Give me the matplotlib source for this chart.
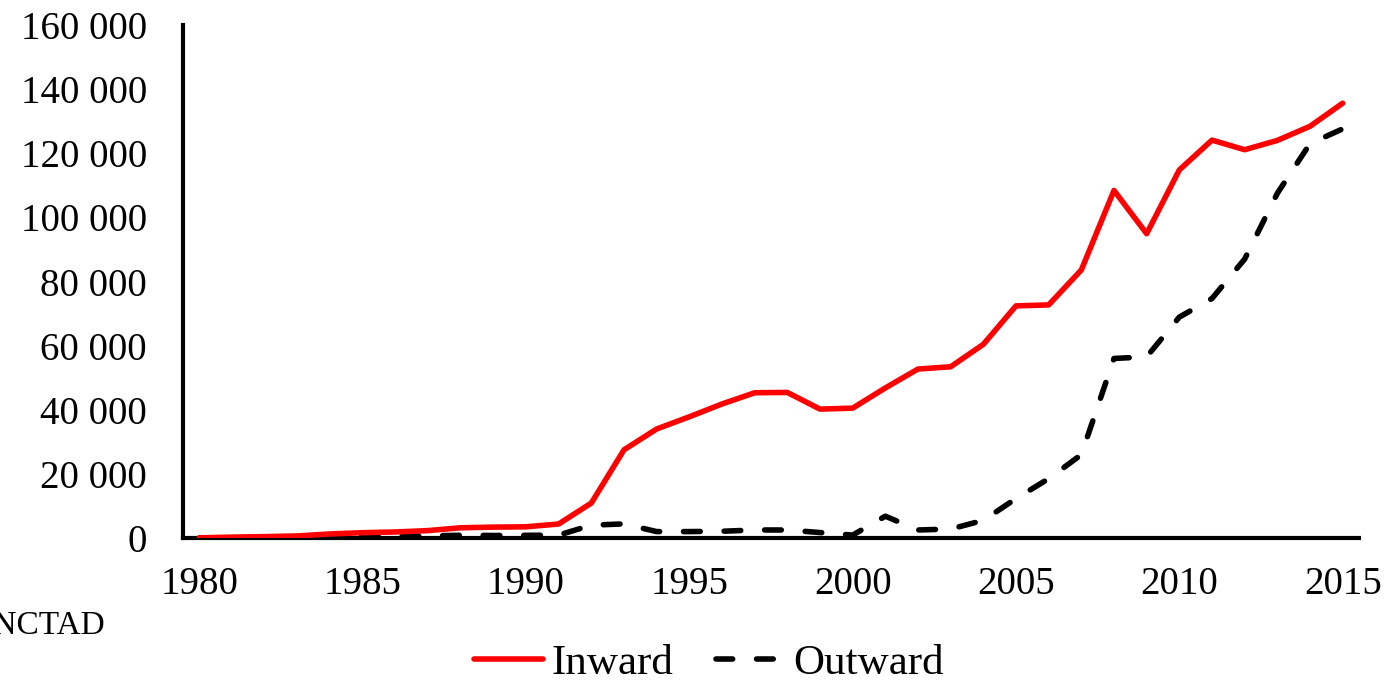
import numpy as np
import matplotlib
matplotlib.use("Agg")
import matplotlib.pyplot as plt

# ============================================================
# Data (USD millions)
# ============================================================

years = list(range(1980, 2016))

inward = [
    60, 270, 430, 640, 1260, 1660, 1880, 2310, 3190, 3390,
    3490, 4370, 10900, 27500, 34000, 37800, 41800, 45300, 45400, 40200,
    40500, 46800, 52700, 53400, 60400, 72400, 72700, 83600, 108400, 94900,
    114800, 124100, 121100, 124000, 128400, 135600,
]

outward = [
    0, 0, 40, 90, 130, 630, 450, 650, 850, 780,
    830, 910, 4000, 4400, 2000, 2000, 2100, 2500, 2500, 1700,
    900, 6800, 2500, 2800, 5500, 12300, 18500, 26000, 56000, 56500,
    68900, 74700, 87000, 107500, 123000, 127600,
]

series_labels = ["Inward", "Outward"]
y_ticks = list(range(0, 160001, 20000))
x_ticks = list(range(1980, 2016, 5))
source_text = "Source: UNCTAD"

# ============================================================
# Plot
# ============================================================

plt.rcParams["font.family"] = ["Liberation Serif", "DejaVu Serif"]

fig = plt.figure(figsize=(13.89, 6.81), dpi=100)
ax = fig.add_axes([183 / 1389, 1 - 538 / 681, (1359 - 183) / 1389, (538 - 25) / 681])

ax.plot(years, inward, color="#ff0000", lw=4.0, solid_capstyle="round",
        solid_joinstyle="round", label=series_labels[0], zorder=3)
ax.plot(years, outward, color="black", lw=4.0, dashes=(3.0, 4.3),
        dash_capstyle="round", label=series_labels[1], zorder=2)

ax.set_xlim(1979.5, 2015.5)
ax.set_ylim(0, 160000)
ax.set_xticks(x_ticks)
ax.set_xticklabels([str(x) for x in x_ticks])
ax.set_yticks(y_ticks)
ax.set_yticklabels([f"{v:,.0f}".replace(",", " ") for v in y_ticks])

ax.tick_params(axis="both", length=0, labelsize=28)
ax.tick_params(axis="x", pad=20)
ax.tick_params(axis="y", pad=26)

for side in ["top", "right"]:
    ax.spines[side].set_visible(False)
for side in ["left", "bottom"]:
    ax.spines[side].set_linewidth(3)
    ax.spines[side].set_capstyle("projecting")

# source note sits partly off the left edge, as in the original
fig.text(105 / 1389, 1 - 634 / 681, source_text, ha="right", va="baseline",
         fontsize=24)

fig.legend(loc="center", bbox_to_anchor=(709 / 1389, 1 - 663 / 681), ncol=2,
           frameon=False, fontsize=31, handlelength=1.6, handletextpad=0.2,
           columnspacing=1.0, borderpad=0, borderaxespad=0)

fig.savefig("out.png", dpi=100)
